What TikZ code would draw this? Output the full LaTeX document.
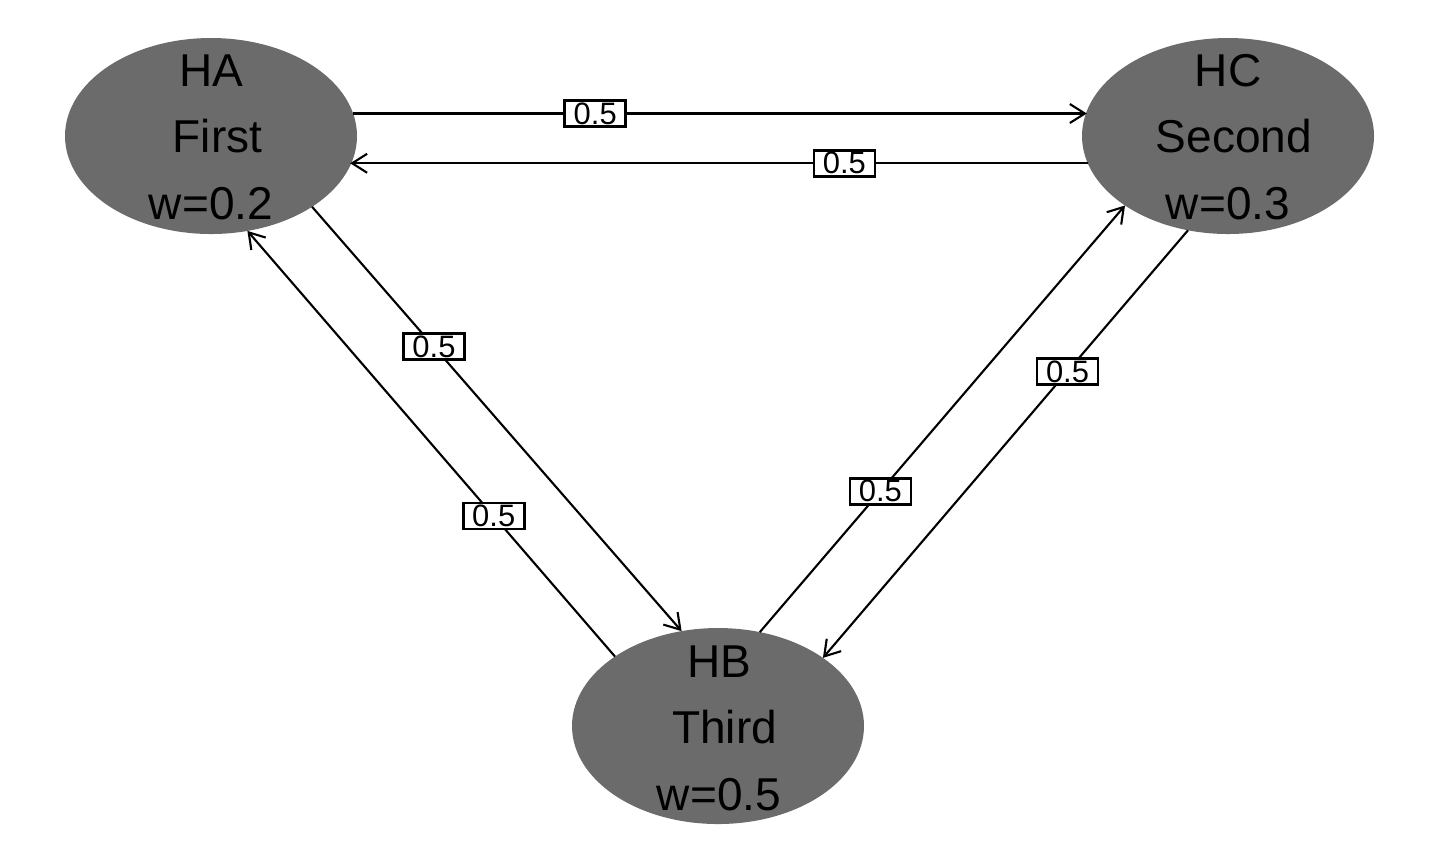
\documentclass[tikz,border=0pt]{standalone}
\usepackage{fontspec}
\setmainfont{Liberation Sans}
\usetikzlibrary{shapes.geometric,arrows.meta}
\definecolor{nodegray}{RGB}{107,107,107}
\begin{document}
\begin{tikzpicture}[x=0.1mm,y=-0.1mm,
  ellip/.style={ellipse,fill=nodegray,minimum width=29.2mm,minimum height=19.6mm,inner sep=0pt,outer sep=0pt},
  ntext/.style={align=center,font=\fontsize{13.1}{18.9}\selectfont,inner sep=0pt},
  edge/.style={line width=0.6pt,-{Straight Barb[length=1.5mm,width=1.9mm]}},
  wlabel/.style={draw,fill=white,line width=0.75pt,font=\fontsize{8.8}{10}\selectfont,inner sep=0pt,minimum width=6.1mm,minimum height=2.6mm,pos=0.33}]
\useasboundingbox (0,0) rectangle (1440,864);
\node[ellip] (HA) at (211,136) {};
\node[ellip] (HC) at (1228,136) {};
\node[ellip] (HB) at (718,726) {};
\node[ntext] (HAt) at (211,137) {HA\\\hspace{1.3mm}First\\w=0.2};
\node[ntext] (HCt) at (1228,137) {HC\\\hspace{1.2mm}Second\\w=0.3};
\node[ntext] (HBt) at (719,728) {HB\\\hspace{1.1mm}Third\\w=0.5};
\draw[edge] (HA.9.7) -- node[wlabel] (l1) {0.5} (HC.170.3 |- HA.9.7);
\draw[edge] (HC.191.2) -- node[wlabel] (l2) {0.5} (HA.348.8 |- HC.191.2);
\draw[edge] (HA.325.6) -- node[wlabel] (l3) {0.5} (HB.111);
\draw[edge] (HB.146.8) -- node[wlabel] (l4) {0.5} (HA.291);
\draw[edge] (HB.66.9) -- node[wlabel] (l5) {0.5} (HC.214.7);
\draw[edge] (HC.247.4) -- node[wlabel] (l6) {0.5} (HB.33.2);
\end{tikzpicture}
\end{document}
